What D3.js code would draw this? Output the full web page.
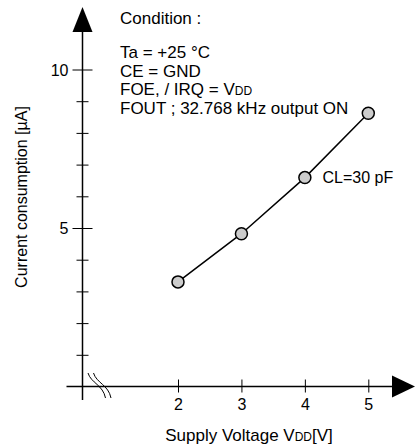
<!DOCTYPE html>
<html>
<head>
<meta charset="utf-8">
<script src="https://cdn.jsdelivr.net/npm/d3@7"></script>
<style>
  html, body { margin: 0; padding: 0; background: #fff; }
  svg { display: block; font-family: "Liberation Sans", Arial, sans-serif; }
</style>
</head>
<body>
<svg id="chart" width="417" height="445"></svg>
<script>
// values
const voltage = [2, 3, 4, 5];
const current = [3.30, 4.82, 6.59, 8.62];
const yTicks = [1, 2, 3, 4, 5, 6, 7, 8, 9, 10];
const yLabelled = [5, 10];
const xTicks = [2, 3, 4, 5];
const conditionLines = ['Ta = +25 \u00B0C', 'CE = GND', 'FOE, / IRQ = V|DD', 'FOUT ; 32.768 kHz output ON'];

(() => {
  const svg = d3.select('#chart');
  const fs = 16, fsText = 17;
  const axisX = 82.5, axisY = 386.5;

  const x = d3.scaleLinear().domain([2, 5]).range([178, 368.3]);
  const y = d3.scaleLinear().domain([0, 10]).range([axisY, 69.5]);

  // axis lines + arrows
  svg.append('line').attr('x1', axisX).attr('x2', axisX).attr('y1', 400).attr('y2', 30)
    .attr('stroke', '#000').attr('stroke-width', 1.5);
  svg.append('path').attr('d', `M${axisX},7 L${axisX - 10},32 L${axisX + 10},32 Z`).attr('fill', '#000');
  svg.append('line').attr('x1', 66.5).attr('x2', 394).attr('y1', axisY).attr('y2', axisY)
    .attr('stroke', '#000').attr('stroke-width', 1.5);
  svg.append('path').attr('d', `M415,${axisY} L392,${axisY - 11} L392,${axisY + 11} Z`).attr('fill', '#000');

  // y axis ticks
  const yAxis = svg.append('g').attr('transform', `translate(${axisX},0)`)
    .call(d3.axisLeft(y).tickValues(yTicks).tickSize(0)
      .tickFormat(d => yLabelled.includes(d) ? d : ''));
  yAxis.select('.domain').remove();
  yAxis.selectAll('.tick line')
    .attr('x1', d => yLabelled.includes(d) ? -10 : -6)
    .attr('x2', d => yLabelled.includes(d) ? 10 : 6)
    .attr('stroke', '#000').attr('stroke-width', 1);
  yAxis.selectAll('.tick text').attr('x', -14).attr('dy', '0.35em')
    .attr('font-size', fs).attr('font-family', null).attr('fill', '#000');

  // x axis ticks
  const xAxis = svg.append('g').attr('transform', `translate(0,${axisY})`)
    .call(d3.axisBottom(x).tickValues(xTicks).tickSize(0).tickFormat(d3.format('d')));
  xAxis.select('.domain').remove();
  xAxis.selectAll('.tick line').attr('y1', -7).attr('y2', 6)
    .attr('stroke', '#000').attr('stroke-width', 1);
  xAxis.selectAll('.tick text').attr('y', 23).attr('dy', 0)
    .attr('font-size', fs).attr('font-family', null).attr('fill', '#000');

  // axis break marks
  [0, 5.5].forEach(dx => {
    svg.append('path')
      .attr('d', `M${88 + dx},373 C${91 + dx},383 ${103 + dx},385 ${105.5 + dx},398`)
      .attr('fill', 'none').attr('stroke', '#000').attr('stroke-width', 1);
  });

  // series
  const pts = voltage.map((v, i) => [v, current[i]]);
  svg.append('path').datum(pts)
    .attr('d', d3.line().x(d => x(d[0])).y(d => y(d[1])))
    .attr('fill', 'none').attr('stroke', '#000').attr('stroke-width', 1.5);
  svg.selectAll('.pt').data(pts).enter().append('circle').attr('class', 'pt')
    .attr('cx', d => x(d[0])).attr('cy', d => y(d[1])).attr('r', 6)
    .attr('fill', '#cccccc').attr('stroke', '#000').attr('stroke-width', 1.5);

  svg.append('text').attr('x', 322.5).attr('y', 183).attr('font-size', fs).text('CL=30 pF');

  // condition block
  svg.append('text').attr('x', 120).attr('y', 24).attr('font-size', fsText).text('Condition :');
  conditionLines.forEach((s, i) => {
    const t = svg.append('text').attr('x', 120).attr('y', 58 + i * 18.5).attr('font-size', fsText);
    const parts = s.split('|');
    t.append('tspan').text(parts[0]);
    if (parts[1]) t.append('tspan').attr('font-size', 12).text(parts[1]);
  });

  // axis titles
  const xl = svg.append('text').attr('x', 249).attr('y', 441).attr('text-anchor', 'middle').attr('font-size', fsText);
  xl.append('tspan').text('Supply Voltage V');
  xl.append('tspan').attr('font-size', 12).text('DD');
  xl.append('tspan').text('[V]');

  svg.append('text').attr('transform', 'translate(27,197) rotate(-90)')
    .attr('text-anchor', 'middle').attr('font-size', fs).text('Current consumption [\u00B5A]');
})();
</script>
</body>
</html>
